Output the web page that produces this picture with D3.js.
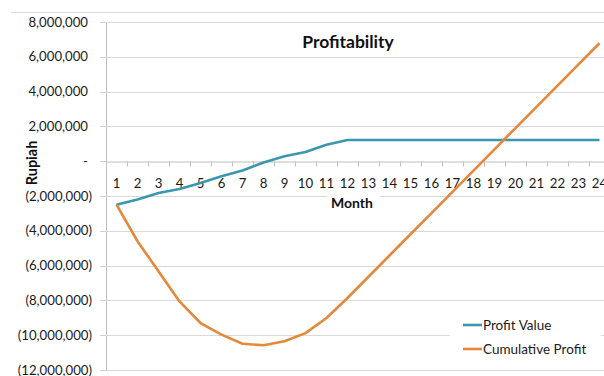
<!DOCTYPE html>
<html><head><meta charset="utf-8">
<script src="https://cdn.jsdelivr.net/npm/d3@7/dist/d3.min.js"></script>
<style>body{margin:0;background:#fff}svg{display:block;font-family:Lato,"Open Sans",sans-serif}</style>
</head><body><svg id="c" width="604" height="376"></svg>
<script>
const months = d3.range(1, 25).map(String);
const profitValue = [-2.5,-2.2,-1.83,-1.6,-1.25,-0.87,-0.53,-0.07,0.28,0.53,0.95,1.22,1.22,1.22,1.22,1.22,1.22,1.22,1.22,1.22,1.22,1.22,1.22,1.22].map(v=>v*1e6);
const cumulativeProfit = [-2.5,-4.6,-6.33,-8.06,-9.3,-9.97,-10.49,-10.58,-10.35,-9.88,-9.01,-7.86,-6.64,-5.42,-4.2,-2.98,-1.76,-0.54,0.68,1.9,3.12,4.34,5.56,6.78].map(v=>v*1e6);
const yTicks = [8e6,6e6,4e6,2e6,0,-2e6,-4e6,-6e6,-8e6,-10e6,-12e6];
const seriesNames = ["Profit Value","Cumulative Profit"];
const colors = ["#3b96ae","#e4883b"];

const svg = d3.select("#c");
const L = 106, T = 22, B = 370, step = 21;
const x = d3.scaleBand().domain(months).range([L, L + step*months.length]);
const y = d3.scaleLinear().domain([-12e6, 8e6]).range([B, T]);
const fmt = d3.format(",");

// top border
svg.append("line").attr("x1",11).attr("x2",604).attr("y1",12.5).attr("y2",12.5).attr("stroke","#d9d9d9");

// gridlines + y ticks
const yAxis = d3.axisLeft(y).tickValues(yTicks).tickSize(6).tickFormat("");
const gy = svg.append("g").attr("transform",`translate(${L},0)`).call(yAxis);
gy.select(".domain").attr("stroke","#bfbfbf");
gy.selectAll(".tick line").attr("stroke","#d0d0d0");
svg.append("g").selectAll("line").data(yTicks.filter(v=>v!==0)).join("line")
  .attr("x1",L).attr("x2",604).attr("y1",d=>Math.round(y(d))+0.5).attr("y2",d=>Math.round(y(d))+0.5)
  .attr("stroke","#d9d9d9");
gy.selectAll(".tick").attr("transform",d=>`translate(0,${Math.round(y(d))+0.5})`);

// y labels
svg.append("g").selectAll("text").data(yTicks).join("text")
  .attr("x",d=> d<0 ? 92 : 88).attr("y",d=>y(d)).attr("dy","0.35em")
  .attr("text-anchor","end").attr("font-size",13.2).attr("fill","#1a1a1a")
  .text(d=> d===0 ? "-" : d<0 ? "(" + fmt(-d) + ")" : fmt(d));

// y title
svg.append("text").attr("transform","translate(37,163) rotate(-90)").attr("text-anchor","middle")
  .attr("font-size",14.5).attr("font-weight","bold").attr("fill","#111").text("Rupiah");

// x axis at zero
const xAxis = d3.axisBottom(x).tickSize(0).tickFormat("");
const gx = svg.append("g").attr("transform",`translate(0,${Math.round(y(0))+0.5})`).call(xAxis);
gx.select(".domain").attr("stroke","#bfbfbf");
const bounds = d3.range(0, months.length+1).map(i=>L + i*step);
gx.selectAll(".bt").data(bounds).join("line").attr("class","bt")
  .attr("x1",d=>d+0.5).attr("x2",d=>d+0.5).attr("y1",0).attr("y2",5).attr("stroke","#bfbfbf");
svg.append("g").selectAll("text").data(months).join("text")
  .attr("x",d=>x(d)+x.bandwidth()/2).attr("y",183).attr("dy","0.35em")
  .attr("text-anchor","middle").attr("font-size",13.2).attr("fill","#1a1a1a").text(d=>d);

// Month title with white background
svg.append("rect").attr("x",327).attr("y",194).attr("width",53).attr("height",16).attr("fill","#fff");
svg.append("text").attr("x",352).attr("y",203).attr("dy","0.35em").attr("text-anchor","middle")
  .attr("font-size",14).attr("font-weight","bold").attr("fill","#111").text("Month");

// Title
svg.append("text").attr("x",348).attr("y",48).attr("text-anchor","middle")
  .attr("font-size",17.5).attr("font-weight","bold").attr("fill","#111").text("Profitability");

// lines
const line = d3.line().x((d,i)=>x(months[i])+x.bandwidth()/2).y(d=>y(d));
[profitValue, cumulativeProfit].forEach((s,i)=>{
  svg.append("path").datum(s).attr("d",line).attr("fill","none")
    .attr("stroke",colors[i]).attr("stroke-width",2.6).attr("stroke-linejoin","round");
});

// legend
svg.append("rect").attr("x",450).attr("y",312).attr("width",151).attr("height",50).attr("fill","#fff");
const lg = svg.append("g").selectAll("g").data(seriesNames).join("g")
  .attr("transform",(d,i)=>`translate(463,${325 + i*24})`);
lg.append("line").attr("x1",0).attr("x2",19).attr("stroke",(d,i)=>colors[i]).attr("stroke-width",2.6);
lg.append("text").attr("x",20).attr("dy","0.35em").attr("font-size",13.5).attr("fill","#1a1a1a").text(d=>d);
</script></body></html>
